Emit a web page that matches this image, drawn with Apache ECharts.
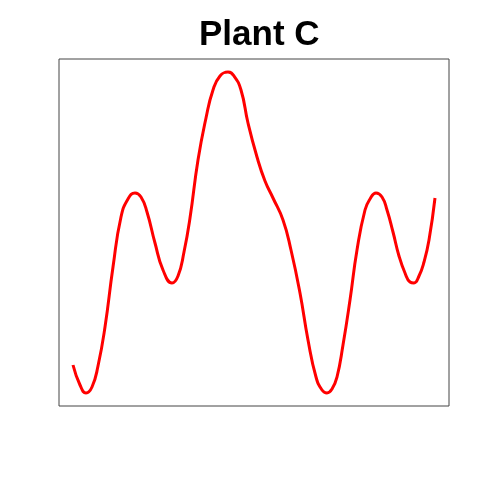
<!DOCTYPE html>
<html><head><meta charset="utf-8">
<script src="https://cdn.jsdelivr.net/npm/echarts@6/dist/echarts.min.js"></script>
<style>html,body{margin:0;padding:0;background:#fff}#c{width:480px;height:480px}</style>
</head><body><div id="c"></div>
<script>
const titleText = "Plant C";
const xs = [14, 21, 27, 33, 39, 46, 54, 62, 69, 76, 82, 88, 96, 104, 113, 119, 125, 131, 139, 147, 154, 161, 169, 175, 182, 189, 198, 206, 214, 224, 232, 241, 249, 257, 263, 268, 273, 278, 284, 291, 298, 306, 311, 317, 323, 328, 334, 340, 346, 351, 355, 360, 365, 370, 376];
const ys = [41, 21, 13, 19, 40, 79, 139, 189, 207, 213, 209, 194, 163, 136, 123, 130, 154, 188, 246, 288, 316, 330, 334, 330, 316, 283, 249, 225, 208, 186, 156, 113, 66, 29, 16, 13, 17, 29, 61, 106, 156, 196, 207, 213, 209, 196, 174, 150, 133, 124, 123, 130, 144, 166, 208];
const data = xs.map((x, i) => [x, ys[i]]);
const chart = echarts.init(document.getElementById('c'));
chart.setOption({
  animation: false,
  title: { text: titleText, left: 194, top: 13, textStyle: { fontFamily: 'Liberation Sans', fontWeight: 'bold', fontSize: 35, color: '#000' } },
  grid: { left: 59, right: 31, top: 59, bottom: 74, show: true, borderColor: '#444', borderWidth: 1, backgroundColor: 'transparent' },
  xAxis: { type: 'value', min: 0, max: 390, show: false },
  yAxis: { type: 'value', min: 0, max: 347, show: false },
  series: [{ type: 'line', data: data, smooth: 0.5, showSymbol: false, lineStyle: { color: '#ff0000', width: 3 } }]
});
</script></body></html>
